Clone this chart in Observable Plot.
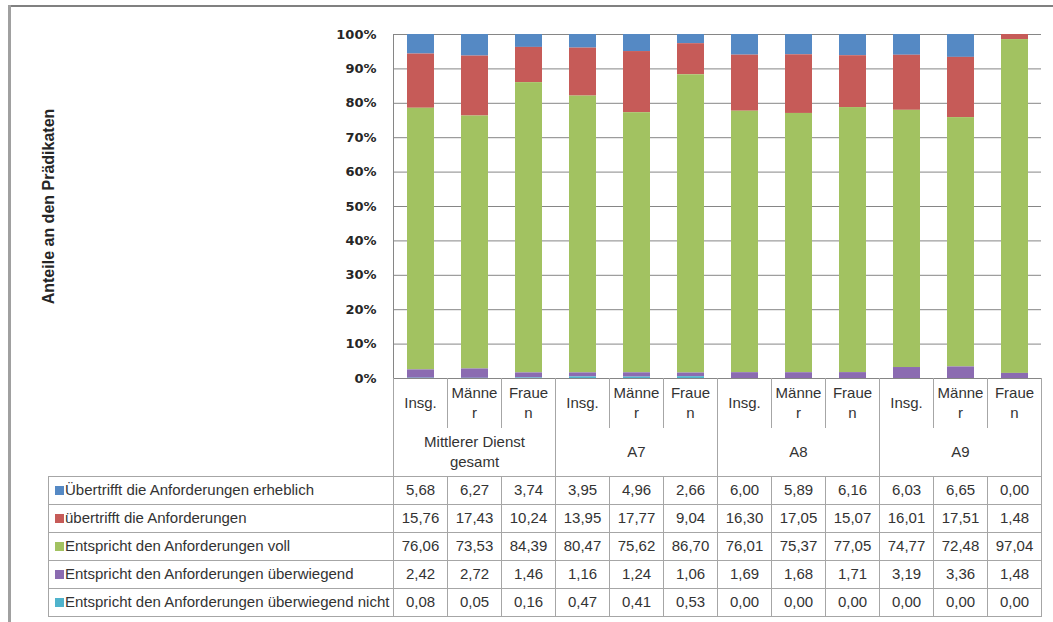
<!DOCTYPE html>
<html><head><meta charset="utf-8">
<script src="https://cdn.jsdelivr.net/npm/d3@7"></script>
<script src="https://cdn.jsdelivr.net/npm/@observablehq/plot@0.6"></script>
<style>
body{margin:0;background:#fff;}
#wrap{position:relative;width:1053px;height:622px;overflow:hidden;background:#fff;}
#frameTop{position:absolute;left:8px;top:5px;width:1045px;height:2px;background:#808080;}
#frameLeft{position:absolute;left:8px;top:5px;width:3px;height:617px;background:#a0a0a0;}
#chart{position:absolute;left:0;top:0;}
#tbl{position:absolute;left:48px;top:378px;border-collapse:collapse;table-layout:fixed;width:993px;font-family:"Liberation Sans",Arial,sans-serif;font-size:15px;color:#333;}
#tbl td{padding:0;text-align:center;vertical-align:middle;line-height:20px;white-space:pre-line;border:1px solid #a6a6a6;overflow:hidden;}
#tbl td.blank{border:none;}
#tbl tr.h1 td.c{border-top:none;border-bottom:none;}
#tbl tr.h2 td.g{border-top:none;}
#tbl tr.h1{height:50px;}
#tbl tr.h2{height:48px;}
#tbl tr.d{height:28px;}
#tbl td.leg{text-align:left;padding-left:6px;white-space:nowrap;}
#tbl span.key{display:inline-block;width:9px;height:9px;margin-right:1px;vertical-align:0px;}
</style>
</head><body>
<div id="wrap">
  <div id="chart"></div>
  <table id="tbl"></table>
  <div id="frameTop"></div>
  <div id="frameLeft"></div>
</div>
<script>
// ---- data ----
const groups = ["Mittlerer Dienst\ngesamt", "A7", "A8", "A9"];
const subLabels = ["Insg.", "Männe\nr", "Fraue\nn"];
const seriesNames = [
  "Übertrifft die Anforderungen erheblich",
  "übertrifft die Anforderungen",
  "Entspricht den Anforderungen voll",
  "Entspricht den Anforderungen überwiegend",
  "Entspricht den Anforderungen überwiegend nicht"
];
const seriesColors = ["#5589c4", "#c65b58", "#a2c261", "#8b6bb1", "#4fb3cc"];
const erheblich    = [5.68, 6.27, 3.74, 3.95, 4.96, 2.66, 6.00, 5.89, 6.16, 6.03, 6.65, 0.00];
const uebertrifft  = [15.76, 17.43, 10.24, 13.95, 17.77, 9.04, 16.30, 17.05, 15.07, 16.01, 17.51, 1.48];
const voll         = [76.06, 73.53, 84.39, 80.47, 75.62, 86.70, 76.01, 75.37, 77.05, 74.77, 72.48, 97.04];
const ueberwiegend = [2.42, 2.72, 1.46, 1.16, 1.24, 1.06, 1.69, 1.68, 1.71, 3.19, 3.36, 1.48];
const nicht        = [0.08, 0.05, 0.16, 0.47, 0.41, 0.53, 0.00, 0.00, 0.00, 0.00, 0.00, 0.00];
const yTicks = [0, 10, 20, 30, 40, 50, 60, 70, 80, 90, 100];
const yTitle = "Anteile an den Prädikaten";

// ---- build ----
const seriesValues = [erheblich, uebertrifft, voll, ueberwiegend, nicht];
const keys = groups.flatMap((g, gi) => subLabels.map((s, si) => `${gi}-${si}`));
const data = seriesNames.flatMap((s, i) => keys.map((k, j) => ({key: k, series: s, value: seriesValues[i][j]})));
const stackOrder = seriesNames.slice().reverse();

const chart = Plot.plot({
  width: 1053, height: 380,
  marginTop: 34, marginBottom: 2, marginLeft: 393, marginRight: 12,
  style: {background: "transparent", overflow: "visible"},
  x: {domain: keys, paddingInner: 0.5, paddingOuter: 0.25, axis: null},
  y: {domain: [0, 100], axis: null},
  color: {domain: seriesNames, range: seriesColors},
  marks: [
    Plot.gridY(yTicks, {stroke: "#868686", strokeOpacity: 1}),
    Plot.barY(data, Plot.stackY({x: "key", y: "value", fill: "series", order: stackOrder})),
    Plot.axisY(yTicks, {tickSize: 0, tickPadding: 17, tickFormat: d => d + "%", fontSize: 13, fontWeight: "bold", fontFamily: "DejaVu Sans", fill: "#262626", label: null}),
    Plot.frame({anchor: "left", stroke: "#868686"}),
    Plot.text([yTitle], {frameAnchor: "left", textAnchor: "middle", lineAnchor: "middle", dx: -345, rotate: -90, fontSize: 16, fontWeight: "bold", fontFamily: "Liberation Sans", fill: "#262626"})
  ]
});
document.getElementById("chart").appendChild(chart);

// ---- table ----
const fmt = v => v.toFixed(2).replace(".", ",");
const colW = (1041 - 393) / 12;
let html = `<colgroup><col style="width:345px">` + keys.map(() => `<col style="width:${colW}px">`).join("") + `</colgroup>`;
html += `<tr class="h1"><td class="blank"></td>` + keys.map((k, j) => `<td class="c">${subLabels[j % 3]}</td>`).join("") + `</tr>`;
html += `<tr class="h2"><td class="blank"></td>` + groups.map(g => `<td class="g" colspan="3">${g}</td>`).join("") + `</tr>`;
seriesNames.forEach((s, i) => {
  html += `<tr class="d"><td class="leg"><span class="key" style="background:${seriesColors[i]}"></span>${s}</td>` +
    seriesValues[i].map(v => `<td>${fmt(v)}</td>`).join("") + `</tr>`;
});
document.getElementById("tbl").innerHTML = html;
</script>
</body></html>
